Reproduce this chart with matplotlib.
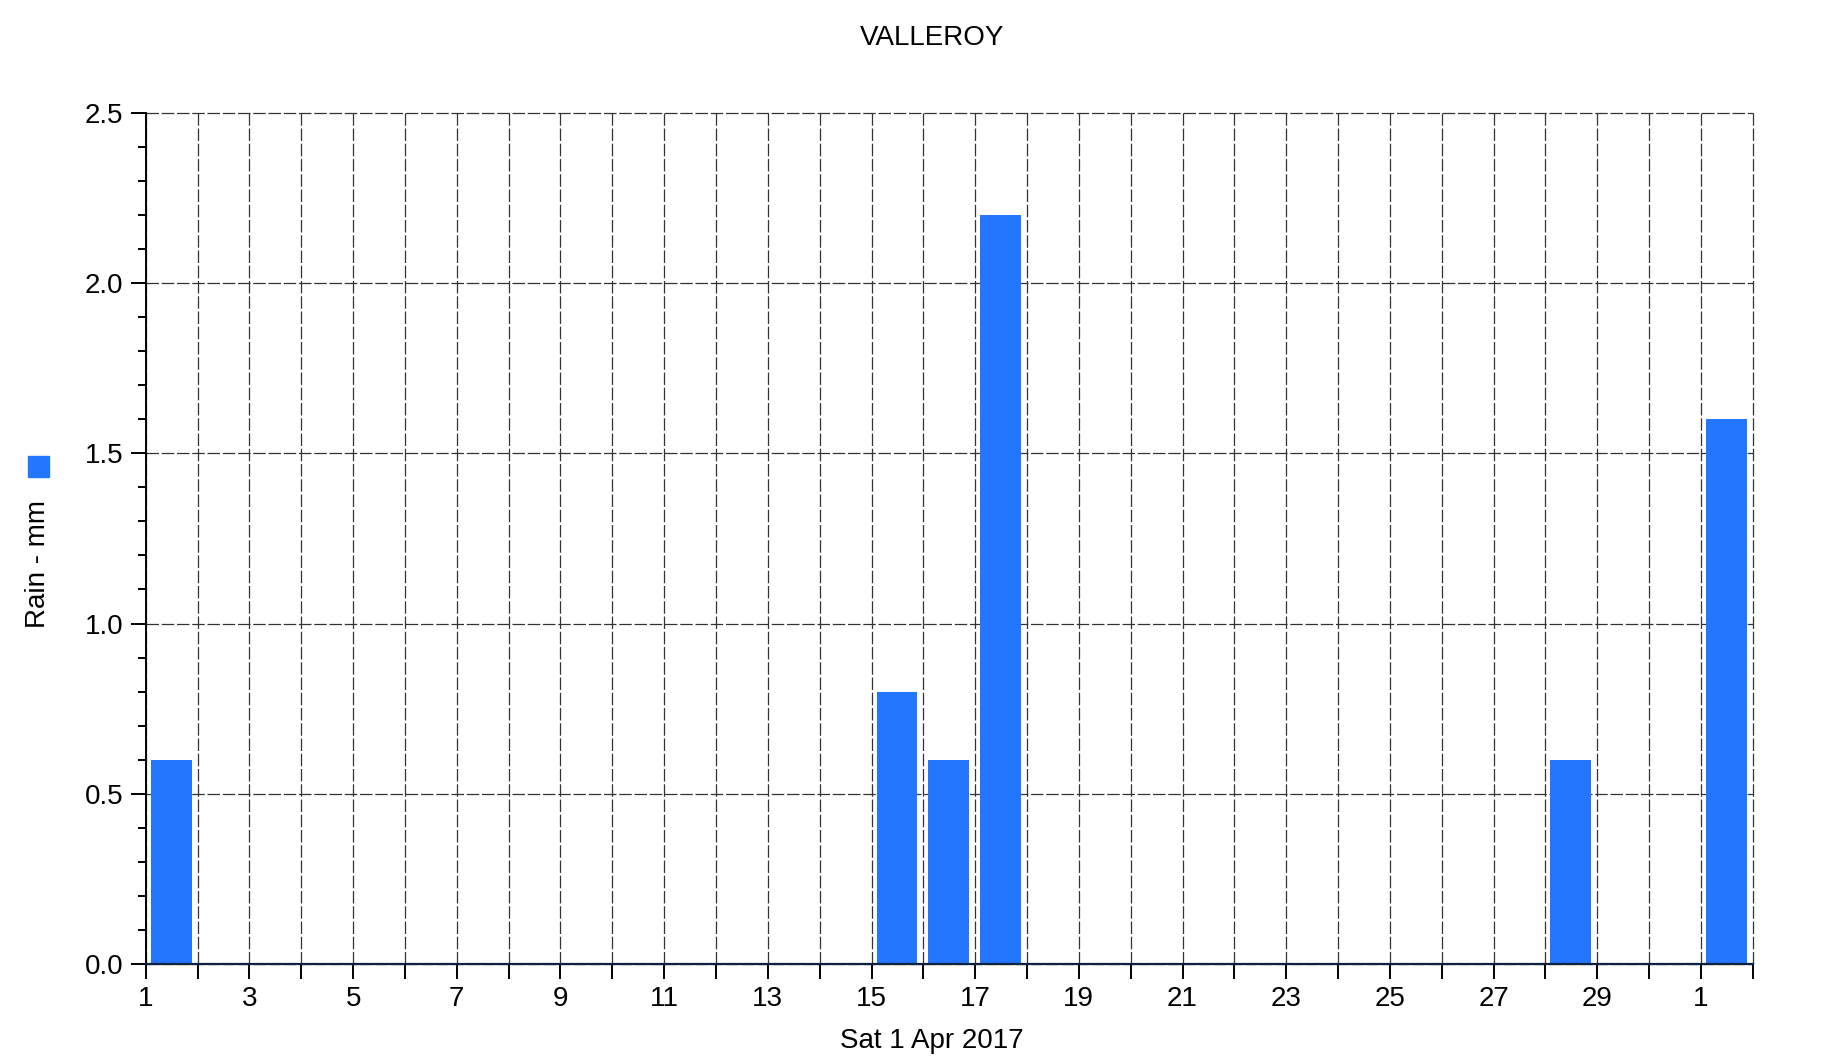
import datetime as dt

import matplotlib
matplotlib.use("Agg")
import matplotlib.pyplot as plt
import matplotlib.dates as mdates
from matplotlib.patches import Rectangle
from matplotlib.ticker import FixedLocator, FuncFormatter, MultipleLocator

plt.rcParams["font.family"] = ["Liberation Sans", "DejaVu Sans"]

# daily rainfall, April 2017 (plus 1 May)
start_date = dt.date(2017, 4, 1)
end_date = dt.date(2017, 5, 2)
rain_dates = [
    dt.date(2017, 4, 1),
    dt.date(2017, 4, 15),
    dt.date(2017, 4, 16),
    dt.date(2017, 4, 17),
    dt.date(2017, 4, 28),
    dt.date(2017, 5, 1),
]
rain_mm = [0.6, 0.8, 0.6, 2.2, 0.6, 1.6]

title = "VALLEROY"
x_label = "Sat 1 Apr 2017"
y_label = "Rain - mm"
bar_color = "#2276ff"

fig = plt.figure(figsize=(18.22, 10.64), dpi=100)
ax = fig.add_axes([0.080, 0.094, 0.882, 0.800])

n_days = (end_date - start_date).days
day_nums = [mdates.date2num(start_date + dt.timedelta(days=i)) for i in range(n_days + 1)]

bar_x = [mdates.date2num(d) + 0.097 for d in rain_dates]
ax.bar(bar_x, rain_mm, width=0.79, align="edge", color=bar_color, zorder=3)

ax.set_xlim(day_nums[0], day_nums[-1])
ax.set_ylim(0, 2.5)

ax.xaxis.set_major_locator(FixedLocator(day_nums))


def day_label(x, pos):
    d = mdates.num2date(x).date()
    idx = (d - start_date).days
    return str(d.day) if idx % 2 == 0 and idx < n_days else ""


ax.xaxis.set_major_formatter(FuncFormatter(day_label))
ax.yaxis.set_major_locator(MultipleLocator(0.5))
ax.yaxis.set_minor_locator(MultipleLocator(0.1))
ax.yaxis.set_major_formatter(FuncFormatter(lambda v, p: f"{v:.1f}"))

ax.tick_params(axis="both", which="major", direction="out", length=11,
               width=1.4, labelsize=20, pad=5, color="black")
ax.tick_params(axis="y", which="minor", direction="out", length=6, width=1.4)

ax.grid(True, which="major", color="#333333", linestyle=(0, (10, 2.2)),
        linewidth=0.9, zorder=1)
for gl in ax.get_xgridlines() + ax.get_ygridlines():
    gl.set_clip_on(False)

for side in ["top", "right"]:
    ax.spines[side].set_visible(False)
ax.spines["left"].set_linewidth(1.4)
ax.spines["bottom"].set_linewidth(1.6)
ax.spines["bottom"].set_color("#0c2240")
ax.spines["left"].set_zorder(4)
ax.spines["bottom"].set_zorder(4)

fig.text(0.5115, 0.964, title, ha="center", va="center", fontsize=20)
fig.text(0.5115, 0.022, x_label, ha="center", va="center", fontsize=20)
fig.text(0.021, 0.470, y_label, rotation=90, ha="center", va="center", fontsize=20)

# legend swatch
fig.add_artist(Rectangle((28 / 1822, 1 - 477 / 1064), 21 / 1822, 21 / 1064,
                         transform=fig.transFigure, color=bar_color))

fig.savefig("out.png", dpi=100)
